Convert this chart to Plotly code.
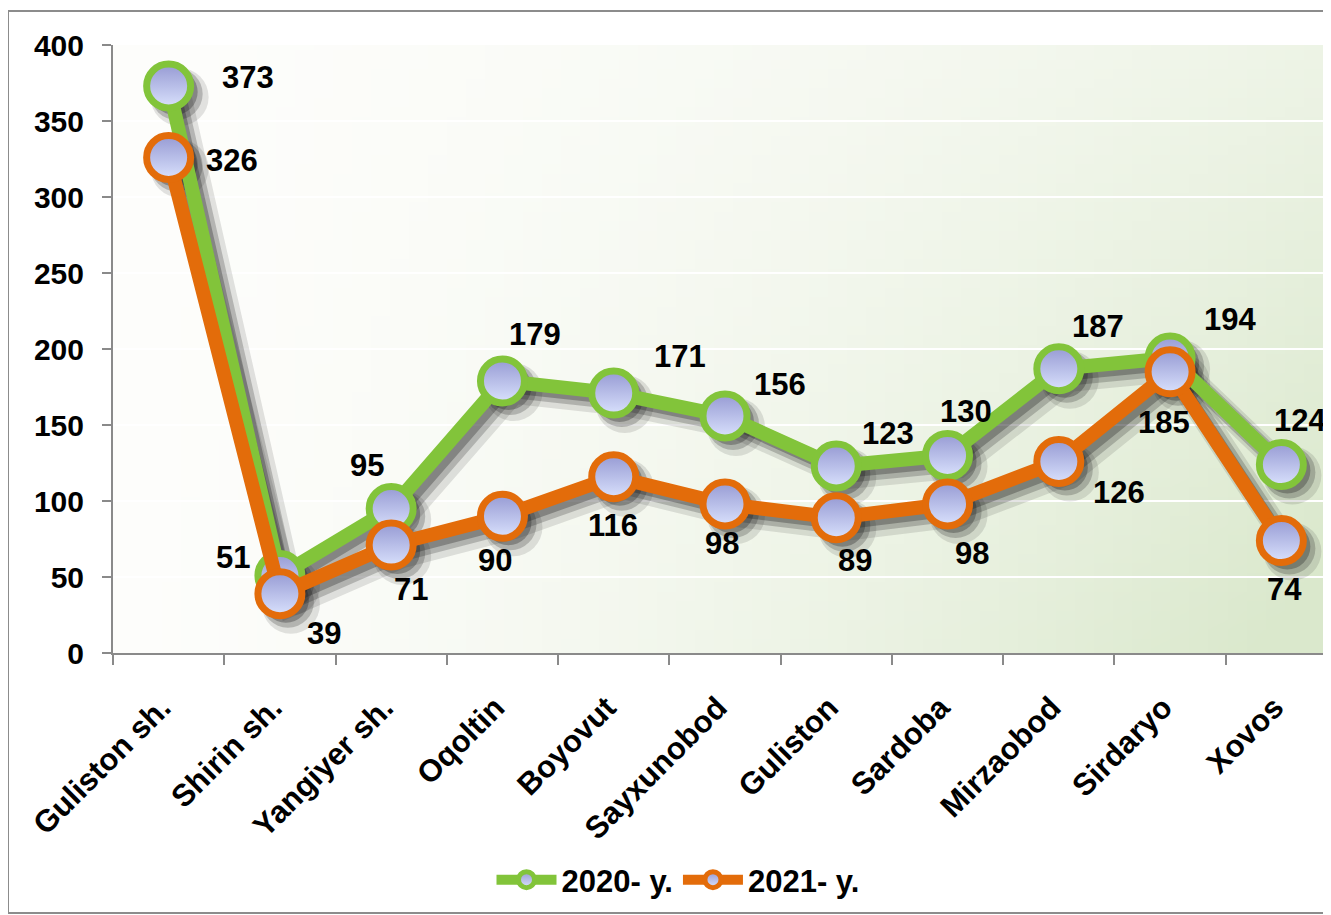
import base64, struct, zlib
import plotly.graph_objects as go

# ---------------- data ----------------
categories = ["Guliston sh.", "Shirin sh.", "Yangiyer sh.", "Oqoltin", "Boyovut",
              "Sayxunobod", "Guliston", "Sardoba", "Mirzaobod", "Sirdaryo", "Xovos"]
series_names = ["2020- y.", "2021- y."]
values_2020 = [373, 51, 95, 179, 171, 156, 123, 130, 187, 194, 124]
values_2021 = [326, 39, 71, 90, 116, 98, 89, 98, 126, 185, 74]
y_ticks = [0, 50, 100, 150, 200, 250, 300, 350, 400]

# ---------------- styling ----------------
OFF = 8  # page body margin in the browser
W, H = 1331 - OFF, 915 - OFF
ML, MR, MT = 113 - OFF, 0, 45 - OFF
PB = 653 - OFF  # plot bottom (figure px)
MB = H - PB
PW, PH = W - ML - MR, PB - MT
XR = [-0.5, 10.446]
YR = [0, 400]
pxx = PW / (XR[1] - XR[0])
pxy = PH / (YR[1] - YR[0])
FONT = "Liberation Sans, Arial, sans-serif"
GREEN = "#82c43a"
ORANGE = "#e36c0a"
# label offsets in pixels (dx, dy up-positive)
off_2020 = [(79, 9), (-47, 18), (-24, 43), (33, 46), (66, 37), (55, 31),
            (52, 33), (18, 44), (39, 42), (60, 39), (19, 44)]
off_2021 = [(63, -3), (44, -40), (20, -44), (-7, -44), (-1, -49), (-3, -39),
            (19, -43), (24, -49), (60, -31), (-6, -51), (3, -49)]


def gradient_png(w=64, h=64):
    top = (253, 253, 251)
    bot = (218, 232, 204)
    rows = b""
    for j in range(h):
        yf = j / (h - 1)
        row = b"\x00"
        for i in range(w):
            xf = i / (w - 1)
            t = (xf ** 1.6) * (0.45 + 0.55 * yf) + 0.08 * yf * xf
            t = max(0.0, min(1.0, t))
            row += bytes(int(round(top[k] + (bot[k] - top[k]) * t)) for k in range(3))
        rows += row

    def chunk(tag, data):
        return struct.pack(">I", len(data)) + tag + data + struct.pack(">I", zlib.crc32(tag + data) & 0xffffffff)

    png = b"\x89PNG\r\n\x1a\n" + chunk(b"IHDR", struct.pack(">IIBBBBB", w, h, 8, 2, 0, 0, 0)) \
        + chunk(b"IDAT", zlib.compress(rows, 9)) + chunk(b"IEND", b"")
    return "data:image/png;base64," + base64.b64encode(png).decode()


fig = go.Figure()

# shadow layers on shifted overlay axes: (axis, shift px, alpha, line width, marker size)
shadow_layers = [(2, 11, 0.12, 24, 58), (3, 8, 0.22, 18, 52), (4, 6, 0.30, 12, 46)]
MAIN = 5
for ax, s, alpha, lw, ms in shadow_layers:
    for vals in (values_2020, values_2021):
        fig.add_trace(go.Scatter(
            x=categories, y=vals, mode="lines+markers",
            xaxis=f"x{ax}", yaxis=f"y{ax}", showlegend=False, hoverinfo="skip",
            line=dict(color=f"rgba(25,25,25,{alpha})", width=lw),
            marker=dict(size=ms, color=f"rgba(25,25,25,{alpha})", line=dict(width=0)),
        ))

for name, vals, col in ((series_names[0], values_2020, GREEN), (series_names[1], values_2021, ORANGE)):
    fig.add_trace(go.Scatter(
        x=categories, y=vals, mode="lines+markers", name=name,
        xaxis=f"x{MAIN}", yaxis=f"y{MAIN}",
        line=dict(color=col, width=14),
        marker=dict(size=44, color="#969ad3",
                    gradient=dict(type="vertical", color="#dae2fd"),
                    line=dict(color=col, width=7)),
    ))

annotations = []
for vals, offs in ((values_2020, off_2020), (values_2021, off_2021)):
    for c, v, (dx, dy) in zip(categories, vals, offs):
        annotations.append(dict(x=c, y=v, xref="x", yref="y", text=str(v), showarrow=False,
                                xshift=dx, yshift=dy,
                                font=dict(family=FONT, size=31, color="#000000", weight="bold")))

layout_axes = {}
for ax, s, alpha, lw, ms in shadow_layers:
    layout_axes[f"xaxis{ax}"] = dict(overlaying="x", visible=False, type="category",
                                     categoryorder="array", categoryarray=categories,
                                     range=[XR[0] - s / pxx, XR[1] - s / pxx])
    layout_axes[f"yaxis{ax}"] = dict(overlaying="y", visible=False,
                                     range=[YR[0] + s / pxy, YR[1] + s / pxy])
layout_axes[f"xaxis{MAIN}"] = dict(overlaying="x", visible=False, type="category",
                                   categoryorder="array", categoryarray=categories, range=XR)
layout_axes[f"yaxis{MAIN}"] = dict(overlaying="y", visible=False, range=YR)

fig.update_layout(
    width=W, height=H,
    margin=dict(l=ML, r=MR, t=MT, b=MB, pad=0),
    paper_bgcolor="white", plot_bgcolor="rgba(0,0,0,0)",
    font=dict(family=FONT, size=30, color="#000000", weight="bold"),
    xaxis=dict(type="category", categoryorder="array", categoryarray=categories, range=XR,
               showgrid=False, showline=True, linecolor="#8a8a8a", linewidth=2,
               ticks="outside", tickson="boundaries", ticklen=10, tickcolor="#8a8a8a", tickwidth=2,
               tickangle=-45, ticklabelstandoff=22, ticklabelshift=-7,
               tickfont=dict(family=FONT, size=31, color="#000000", weight="bold")),
    yaxis=dict(range=YR, tickvals=y_ticks, showgrid=True, gridcolor="#ffffff", gridwidth=2,
               zeroline=False, showline=True, linecolor="#8a8a8a", linewidth=2,
               ticks="outside", ticklen=9, tickcolor="#8a8a8a", tickwidth=2,
               ticklabelstandoff=12,
               tickfont=dict(family=FONT, size=30, color="#000000", weight="bold")),
    legend=dict(orientation="h", x=(678 - 113) / PW, xanchor="center",
                y=(653 - 880) / PH, yanchor="middle", bgcolor="rgba(0,0,0,0)",
                itemwidth=60,
                font=dict(family=FONT, size=31, color="#000000", weight="bold")),
    images=[dict(source=gradient_png(), xref="paper", yref="paper", x=0, y=1,
                 sizex=1, sizey=1, sizing="stretch", layer="below", xanchor="left", yanchor="top")],
    shapes=[dict(type="rect", xref="paper", yref="paper",
                 x0=(8 - 113) / PW, x1=1.05, y0=(653 - 913) / PH, y1=(653 - 11) / PH,
                 line=dict(color="#8c8c8c", width=2), fillcolor="rgba(0,0,0,0)", layer="below")],
    annotations=annotations,
    showlegend=True,
    **layout_axes,
)

fig.write_html("out.html")
